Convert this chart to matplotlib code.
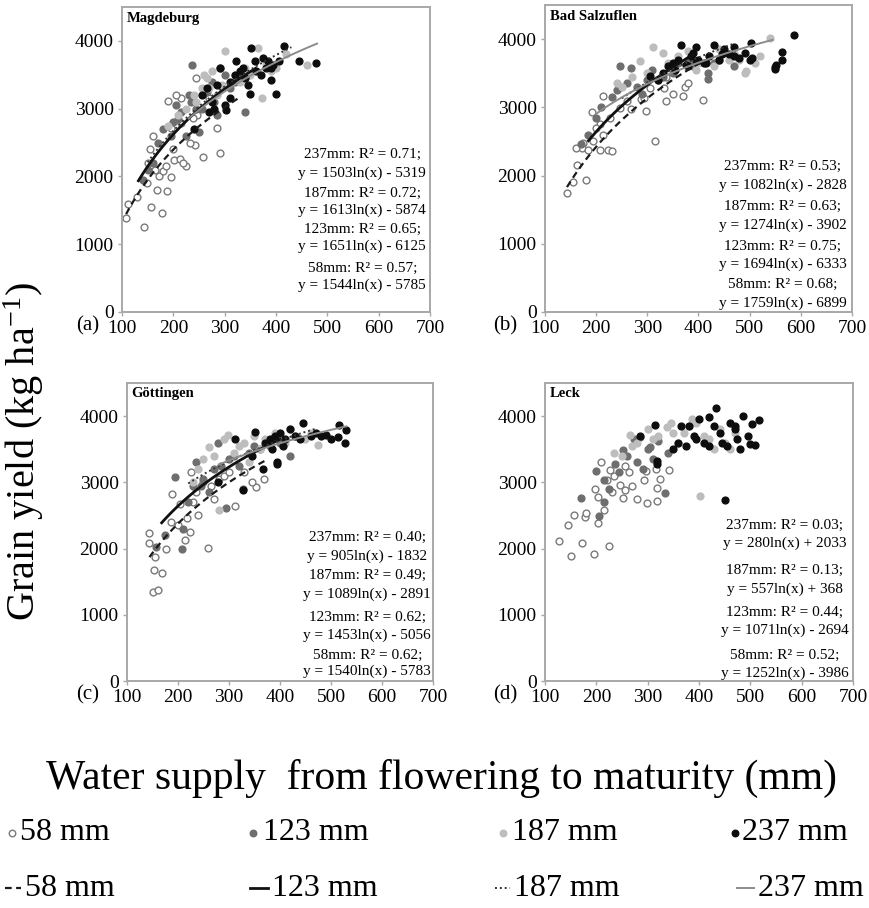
import matplotlib
matplotlib.use("Agg")
import matplotlib.pyplot as plt
import numpy as np

plt.rcParams['font.family'] = ['Liberation Serif', 'DejaVu Serif']
plt.rcParams['mathtext.fontset'] = 'custom'
plt.rcParams['mathtext.rm'] = 'Liberation Serif'
plt.rcParams['mathtext.it'] = 'Liberation Serif:italic'
plt.rcParams['mathtext.bf'] = 'Liberation Serif:bold'

# ---------------- data ----------------
sites = ["Magdeburg", "Bad Salzuflen", "Göttingen", "Leck"]
panel_tags = ["(a)", "(b)", "(c)", "(d)"]
series_names = ["58 mm", "123 mm", "187 mm", "237 mm"]
x_ticks = [100, 200, 300, 400, 500, 600, 700]
y_ticks = [0, 1000, 2000, 3000, 4000]

# Magdeburg
a58_x = [107,112,143,157,178,168,188,160,155,172,180,196,190,214,205,195,215,202,213,225,218,242,258,245,285,290,246,238,150,165,185,200,232,270,130,148]
a58_y = [1380,1590,1260,1550,1460,1800,1780,2600,2400,2000,2080,1990,3110,3160,3200,2720,2790,2250,2260,2160,2200,2470,2290,3450,2710,2340,2900,2860,2200,2100,2150,2400,2500,3150,1700,1900]
a123_x = [236,180,200,205,215,225,235,250,265,275,285,300,310,340,160,150,170,195,230,255,290,320,140,210,245,280]
a123_y = [3640,2700,2800,3050,2950,2600,3100,2650,3250,3400,2900,3500,3300,2950,2200,2100,2500,2600,3200,3000,3600,3400,1950,2850,3000,3100]
a187_x = [260,265,275,300,365,255,245,285,330,350,372,400,420,460,210,225,240,295,320,380,390,190,270,340]
a187_y = [3500,3450,3550,3850,3900,3300,3100,3200,3400,3500,3150,3600,3800,3650,2900,3000,3200,3350,3500,3650,3550,2750,3300,3600]
a237_x = [240,265,270,275,290,300,302,310,320,322,335,345,350,352,360,370,380,385,390,395,400,405,415,445,478,330,362,375,255,280,310,340,390,285]
a237_y = [2700,3300,2950,3100,3600,3050,2980,3400,3500,3700,3600,3350,3220,3900,3700,3500,3600,3700,3420,3650,3220,3700,3930,3700,3670,3550,3550,3750,3200,3000,3150,3450,3600,3350]

# Bad Salzuflen
b58_x = [143,155,181,162,174,172,185,207,224,231,191,214,247,315,409,370,336,297,288,268,247,227,207,214,194,306,332,293,374,336,160,200,260,350,380]
b58_y = [1740,1900,1930,2150,2470,2410,2370,2370,2370,2360,2930,3170,3300,2500,3110,3170,3100,2940,3120,2970,2990,2840,2750,2600,2500,3290,3290,3140,3300,3440,2400,2700,3100,3200,3350]
b123_x = [247,269,185,170,419,419,300,280,330,350,230,210,260,310,360,390,440,470,200,240,320,380,430,290]
b123_y = [3610,3575,2590,2460,3410,3510,3400,3300,3450,3500,3150,3000,3350,3550,3650,3600,3700,3600,2850,3250,3400,3700,3650,3200]
b187_x = [311,539,285,330,360,400,430,493,460,510,270,250,300,350,380,420,470,490,520,440,340,240,395,480]
b187_y = [3880,4015,3680,3800,3750,3650,3600,3535,3700,3650,3450,3300,3500,3600,3820,3750,3800,3500,3750,3850,3650,3350,3550,3700]
b237_x = [366,395,430,469,503,549,586,563,563,550,552,306,320,340,350,360,375,385,390,400,410,420,440,450,460,470,480,490,500,380,395,415,445,355,330,505]
b237_y = [3920,3880,3920,3880,3940,3560,4055,3810,3690,3585,3620,3460,3400,3600,3650,3700,3620,3750,3800,3700,3650,3750,3700,3850,3780,3750,3720,3800,3700,3600,3680,3650,3780,3550,3500,3720]

# Göttingen
c58_x = [144,143,155,152,169,150,160,259,188,225,312,352,368,204,217,224,214,187,236,250,265,280,290,300,240,200,230,330,345,176,270]
c58_y = [2240,2080,1880,1670,1630,1350,1375,2010,2830,3150,2640,2930,3050,2680,2460,2250,2130,2400,2850,3000,2950,3050,3100,3150,2500,2350,2700,3150,3000,2000,2750]
c123_x = [194,235,279,207,157,295,327,210,230,250,260,270,300,320,340,360,380,400,420,175,220,245,285,310,350,390]
c123_y = [3075,3300,3590,1990,2030,2610,2900,2300,2950,3050,2850,3200,3350,3250,3450,3500,3550,3600,3400,2200,2700,2950,3250,3400,3550,3700]
c187_x = [299,260,280,475,330,350,370,390,410,430,450,240,250,270,310,320,340,360,380,400,420,460,290,230]
c187_y = [3710,3540,2580,3560,3600,3700,3650,3750,3600,3700,3650,3200,3350,3400,3450,3550,3300,3500,3600,3700,3800,3750,3650,3000]
c237_x = [312,351,446,516,530,527,514,328,279,366,395,370,380,390,400,410,420,430,440,460,470,480,490,500,385,395,405,345]
c237_y = [3660,3760,3900,3860,3790,3600,3690,2880,3010,3200,3300,3600,3650,3700,3750,3650,3800,3700,3650,3700,3750,3700,3720,3650,3500,3270,3550,3400]

# Leck
d58_x = [128,150,173,195,225,145,157,177,179,204,214,204,197,210,226,220,246,256,252,279,298,319,293,318,325,342,316,296,264,256,235,270,230]
d58_y = [2110,1890,2090,1920,2040,2350,2500,2470,2530,2390,2580,2780,2900,3310,3190,3030,2960,2880,2760,2750,2690,2720,3030,2920,3050,3190,3200,3170,3150,3240,3100,2950,2860]
d123_x = [171,205,199,252,334,214,237,273,286,305,321,260,245,280,300,215,225,340,290,310]
d123_y = [2770,2490,3170,3490,2840,3040,3270,3650,3680,3530,3620,3400,3150,3300,3500,2700,2900,3450,3200,3350]
d187_x = [401,234,266,338,387,429,461,300,350,380,410,440,280,320,360,395,420,250,270,310,345,370,450,470]
d187_y = [2790,3450,3710,3830,3960,3500,3500,3800,3750,3850,3700,3800,3600,3700,3600,3900,3650,3400,3550,3650,3900,3750,3600,3750]
d237_x = [451,434,285,315,319,319,517,509,480,485,503,420,380,390,400,410,430,440,460,470,495,375,395,420,445,470,500,360,350,365,455,475]
d237_y = [2740,4130,3700,3860,3320,3270,3940,3570,3500,4000,3880,3990,3850,3700,3950,3600,3850,3750,3900,3800,3700,3550,3650,3550,3600,3850,3580,3600,3500,3850,3550,3650]

# trend equations y = a*ln(x) + b (order: 58, 123, 187, 237)
coef_a = {"Magdeburg": [1544, 1651, 1613, 1503], "Bad Salzuflen": [1759, 1694, 1274, 1082],
          "Göttingen": [1540, 1453, 1089, 905], "Leck": [1252, 1071, 557, 280]}
coef_b = {"Magdeburg": [-5785, -6125, -5874, -5319], "Bad Salzuflen": [-6899, -6333, -3902, -2828],
          "Göttingen": [-5783, -5056, -2891, -1832], "Leck": [-3986, -2694, 368, 2033]}
r2 = {"Magdeburg": [0.57, 0.65, 0.72, 0.71], "Bad Salzuflen": [0.68, 0.75, 0.63, 0.53],
      "Göttingen": [0.62, 0.62, 0.49, 0.40], "Leck": [0.52, 0.44, 0.13, 0.03]}
# x-extent of drawn trend lines (None = not drawn)
line_range = {"Magdeburg": [(108, 330), (132, 360), (150, 430), (230, 480)],
              "Bad Salzuflen": [(143, 405), (185, 390), (250, 470), (200, 545)],
              "Göttingen": [(144, 370), (168, 400), (220, 470), (280, 530)],
              "Leck": [None, None, None, None]}

points = {
    "Magdeburg": [(a58_x, a58_y), (a123_x, a123_y), (a187_x, a187_y), (a237_x, a237_y)],
    "Bad Salzuflen": [(b58_x, b58_y), (b123_x, b123_y), (b187_x, b187_y), (b237_x, b237_y)],
    "Göttingen": [(c58_x, c58_y), (c123_x, c123_y), (c187_x, c187_y), (c237_x, c237_y)],
    "Leck": [(d58_x, d58_y), (d123_x, d123_y), (d187_x, d187_y), (d237_x, d237_y)],
}

# ---------------- styles ----------------
W, H = 870, 908
fig = plt.figure(figsize=(W / 100, H / 100), dpi=100)

def fx(px):
    return px / W

def fy(py):
    return 1 - py / H

# frames in pixel (left, top, right, bottom)
frames = [(122, 7, 430, 312), (545, 5, 852, 312), (127, 383, 433, 681), (545, 383, 853, 681)]
tag_x = [-0.11, -0.13, -0.13, -0.13]

mk_face = ["white", "#6e6e6e", "#bdbdbd", "#0d0d0d"]
mk_edge = ["#7a7a7a", "#6e6e6e", "#bdbdbd", "#0d0d0d"]
ln_style = [dict(color="#1a1a1a", lw=1.6, ls=(0, (3, 2))),
            dict(color="#111111", lw=2.0, ls="-"),
            dict(color="#333333", lw=1.4, ls=(0, (1, 1.5))),
            dict(color="#8c8c8c", lw=1.4, ls="-")]
frame_col = "#a8a8a8"

for i, site in enumerate(sites):
    l, t, r, b = frames[i]
    ax = fig.add_axes([fx(l), fy(b), (r - l) / W, (b - t) / H])
    ax.set_xlim(100, 700)
    ax.set_ylim(0, 4500)
    ax.set_xticks(x_ticks)
    ax.set_yticks(y_ticks)
    for s in ax.spines.values():
        s.set_color(frame_col)
        s.set_linewidth(1.4)
    ax.tick_params(axis="both", direction="out", length=3, width=1, color=frame_col,
                   labelsize=14, pad=3)
    for k in range(4):
        xs, ys = points[site][k]
        ax.scatter(xs, ys, s=24, facecolor=mk_face[k], edgecolor=mk_edge[k],
                   linewidths=1.0, zorder=2 + k)
    for k in range(4):
        rng = line_range[site][k]
        if rng is None:
            continue
        xx = np.linspace(rng[0], rng[1], 100)
        yy = coef_a[site][k] * np.log(xx) + coef_b[site][k]
        ax.plot(xx, yy, zorder=7, **ln_style[k])
    ax.text(0.015, 0.985, site, transform=ax.transAxes, ha="left", va="top",
            fontsize=10.5, fontweight="bold")
    ax.text(tag_x[i], -0.045, panel_tags[i], transform=ax.transAxes, ha="center",
            va="center", fontsize=15)
    # equation block
    order = [3, 2, 1, 0]
    names = ["58mm", "123mm", "187mm", "237mm"]
    ypos = {"Magdeburg": [2326, 2044, 1748, 1496, 1215, 967, 647, 400],
            "Bad Salzuflen": [2129, 1857, 1551, 1274, 958, 696, 400, 129],
            "Göttingen": [2169, 1877, 1600, 1313, 961, 694, 392, 141],
            "Leck": [2355, 2078, 1665, 1384, 1037, 770, 392, 116]}[site]
    xc = {"Magdeburg": 568, "Bad Salzuflen": 565, "Göttingen": 571, "Leck": 567}[site]
    for j, k in enumerate(order):
        a, bb = coef_a[site][k], coef_b[site][k]
        sign = "-" if bb < 0 else "+"
        ax.text(xc, ypos[2 * j], f"{names[k]}: R² = {r2[site][k]:.2f};",
                ha="center", va="center", fontsize=11, zorder=9)
        ax.text(xc, ypos[2 * j + 1], f"y = {a}ln(x) {sign} {abs(bb)}",
                ha="center", va="center", fontsize=11, zorder=9)

fig.text(fx(24), fy(452), "Grain yield (kg ha$^{\\mathrm{-1}}$)", rotation=90,
         ha="center", va="center", fontsize=29)
fig.text(fx(442), fy(778), "Water supply  from flowering to maturity (mm)",
         ha="center", va="center", fontsize=30)

# legend
leg_ax = fig.add_axes([0, 0, 1, 1], facecolor="none")
leg_ax.set_xlim(0, W)
leg_ax.set_ylim(H, 0)
leg_ax.axis("off")
row1, row2 = 833, 888
mk_px = [12, 253, 503, 735]
txt_px = [20, 263, 512, 742]
for k in range(4):
    leg_ax.scatter([mk_px[k]], [row1], s=22, facecolor=mk_face[k], edgecolor=mk_edge[k],
                   linewidths=1.0)
    leg_ax.text(txt_px[k], row1, series_names[k], ha="left", va="center", fontsize=23)
seg = [(5, 21), (250, 268), (495, 510), (737, 754)]
for k in range(4):
    leg_ax.plot([seg[k][0], seg[k][1]], [row2, row2], **ln_style[k])
    leg_ax.text(seg[k][1] + 4, row2, series_names[k], ha="left", va="center", fontsize=23)

fig.savefig("out.png", dpi=100)
